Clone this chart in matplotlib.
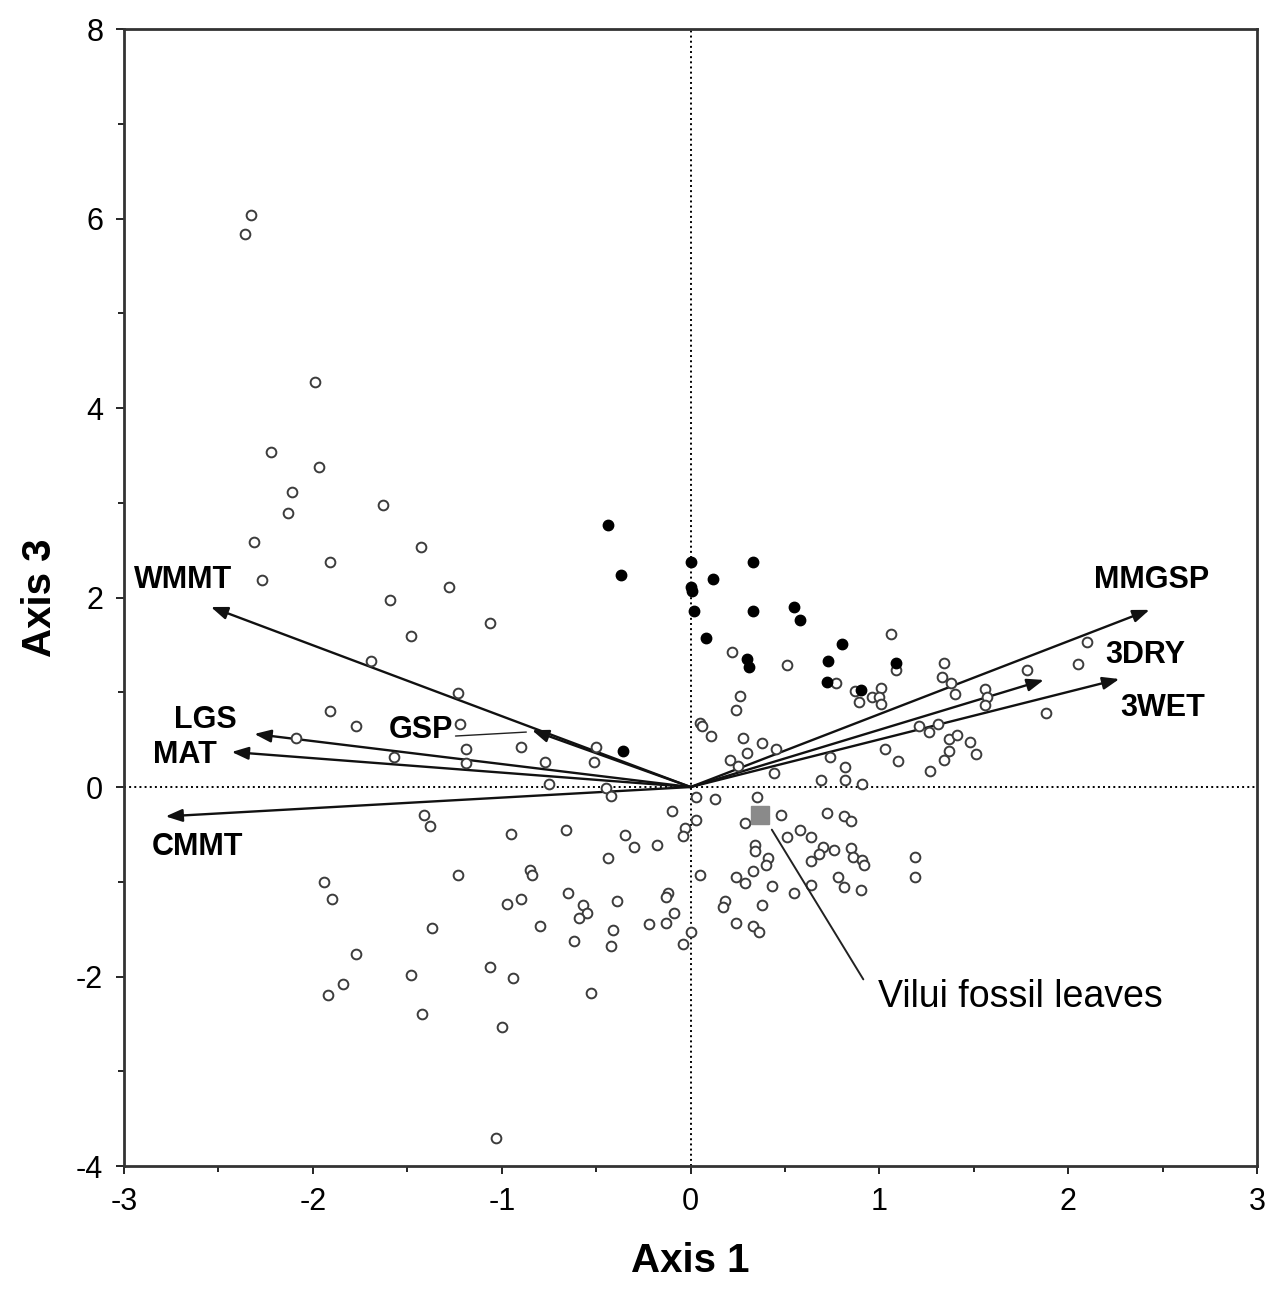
import numpy as np
import matplotlib.pyplot as plt
from matplotlib.ticker import MultipleLocator

plt.rcParams['font.family'] = ['Liberation Sans', 'DejaVu Sans']
plt.rcParams['axes.unicode_minus'] = False

# sitios abiertos (círculos vacíos)
open_x = [-2.33, -2.36, -1.99, -2.22, -1.97, -2.11, -2.13, -1.63, -2.31, -1.43, -1.91, -2.27,
          -1.28, -1.59, -1.06, -1.48, -1.69, -1.23, -1.91, -1.77, -2.09, -1.22, -1.19, -1.57,
          -1.19, -0.90, -0.77, -0.75, -0.50, -0.51, -0.45, -0.42,
          -0.10, 0.03, 0.03, -0.03, -0.04, -1.41, -1.38, -0.95, -0.66, -0.35, -0.30, -0.18,
          -0.44, -1.23, -0.85, -0.84, -1.94, -1.90, 0.05, -0.65, -0.97, -0.90, -0.57, -0.55,
          -0.59, -0.39, -0.12, -0.13, -0.09, -0.13, 0.00, -0.04, -0.22, -0.41, -0.42, -0.62,
          -0.80, -1.37, -1.77, -1.84, -1.92, -1.48, -1.42, -1.06, -0.94, -1.00, -0.53, -1.03,
          0.22, 0.51, 1.06, 1.34, 1.09, 0.77, 1.33, 1.38, 1.40, 0.87, 0.89, 0.96, 1.01, 1.00,
          1.01, 0.26, 0.24, 0.05, 0.06, 0.11, 0.38, 0.45, 0.30, 0.21, 0.25, 0.44, 0.74, 0.82,
          0.69, 0.82, 0.91, 1.03, 1.10, 1.21, 1.26, 1.31, 1.37, 1.41, 1.48, 1.51, 1.37, 1.34,
          1.27, 1.56, 1.57, 1.56, 1.78, 2.10, 2.05, 1.88, 0.28,
          0.13, 0.35, 0.29, 0.48, 0.72, 0.81, 0.85, 0.58, 0.64, 0.51, 0.70, 0.76, 0.85, 0.86,
          0.91, 0.92, 0.68, 0.64, 0.34, 0.34, 0.41, 0.40, 0.33, 0.24, 0.29, 0.43, 0.55, 0.64,
          0.78, 0.81, 0.90, 1.19, 1.19, 0.18, 0.17, 0.38, 0.24, 0.33, 0.36]
open_y = [6.04, 5.84, 4.27, 3.54, 3.38, 3.11, 2.89, 2.98, 2.59, 2.53, 2.37, 2.18,
          2.11, 1.97, 1.73, 1.59, 1.33, 0.99, 0.80, 0.64, 0.52, 0.66, 0.40, 0.32,
          0.25, 0.42, 0.26, 0.03, 0.42, 0.26, -0.01, -0.09,
          -0.25, -0.10, -0.35, -0.43, -0.52, -0.30, -0.41, -0.50, -0.45, -0.51, -0.63, -0.61,
          -0.75, -0.93, -0.88, -0.93, -1.00, -1.18, -0.93, -1.12, -1.23, -1.18, -1.25, -1.33,
          -1.38, -1.20, -1.12, -1.16, -1.33, -1.44, -1.53, -1.66, -1.45, -1.51, -1.68, -1.62,
          -1.47, -1.49, -1.76, -2.08, -2.20, -1.98, -2.40, -1.90, -2.02, -2.53, -2.17, -3.70,
          1.43, 1.29, 1.61, 1.31, 1.23, 1.10, 1.16, 1.10, 0.98, 1.01, 0.90, 0.95, 1.05, 0.95,
          0.88, 0.96, 0.81, 0.68, 0.64, 0.54, 0.46, 0.40, 0.36, 0.28, 0.22, 0.15, 0.32, 0.21,
          0.07, 0.07, 0.03, 0.40, 0.27, 0.64, 0.58, 0.66, 0.51, 0.55, 0.48, 0.35, 0.38, 0.28,
          0.17, 1.03, 0.95, 0.87, 1.23, 1.53, 1.30, 0.78, 0.52,
          -0.13, -0.11, -0.38, -0.29, -0.27, -0.31, -0.36, -0.45, -0.53, -0.53, -0.63, -0.66, -0.64, -0.74,
          -0.77, -0.82, -0.71, -0.78, -0.61, -0.68, -0.75, -0.82, -0.89, -0.95, -1.01, -1.04, -1.12, -1.03,
          -0.95, -1.06, -1.09, -0.74, -0.95, -1.20, -1.27, -1.25, -1.43, -1.47, -1.53]

# sitios con relleno negro
filled_x = [-0.44, -0.37, 0.00, 0.00, 0.01, 0.02, 0.12, 0.33, 0.33, 0.08, 0.30, 0.31,
            0.55, 0.58, 0.80, 0.73, 0.72, 0.90, 1.09, -0.36]
filled_y = [2.77, 2.24, 2.38, 2.11, 2.07, 1.86, 2.20, 2.38, 1.86, 1.57, 1.35, 1.27,
            1.90, 1.76, 1.51, 1.33, 1.11, 1.02, 1.31, 0.38]

# vectores climáticos
vec_names = ['WMMT', 'LGS', 'MAT', 'CMMT', 'GSP', 'MMGSP', '3DRY', '3WET']
vec_x = [-2.54, -2.31, -2.43, -2.78, -0.84, 2.43, 1.87, 2.27]
vec_y = [1.90, 0.56, 0.37, -0.31, 0.60, 1.87, 1.13, 1.14]
label_pos = {'WMMT': (-2.69, 2.18), 'LGS': (-2.57, 0.71), 'MAT': (-2.68, 0.34),
             'CMMT': (-2.61, -0.63), 'MMGSP': (2.44, 2.18), '3DRY': (2.41, 1.39),
             '3WET': (2.50, 0.83)}

# hojas fósiles de Vilui
fossil_x, fossil_y = 0.37, -0.30

fig = plt.figure(figsize=(12.75, 12.9), dpi=100)
ax = fig.add_axes([0.0973, 0.0961, 0.8887, 0.8814])

ax.axhline(0, color='black', ls=':', lw=1.4, zorder=1)
ax.axvline(0, color='black', ls=':', lw=1.4, zorder=1)

ax.plot(open_x, open_y, 'o', ms=7, mfc='white', mec='#3c3c3c', mew=1.4, zorder=3)
ax.plot(filled_x, filled_y, 'o', ms=7.5, mfc='black', mec='black', zorder=4)

# flechas
for name, vx, vy in zip(vec_names, vec_x, vec_y):
    ax.annotate('', xy=(vx, vy), xytext=(0, 0),
                arrowprops=dict(arrowstyle='-|>,head_length=1.0,head_width=0.38',
                                color='#111111', lw=1.7, shrinkA=0, shrinkB=0),
                zorder=2)
    if name in label_pos:
        lx, ly = label_pos[name]
        ax.text(lx, ly, name, fontsize=22, fontweight='bold', ha='center', va='center')

# GSP con línea guía
ax.annotate('GSP', xy=(vec_x[4] - 0.03, vec_y[4] - 0.02), xytext=(-1.43, 0.60),
            fontsize=22, fontweight='bold', ha='center', va='center',
            arrowprops=dict(arrowstyle='-', color='#222222', lw=1.0, shrinkA=0, shrinkB=0,
                            relpos=(1.0, 0.3)))

ax.plot(fossil_x, fossil_y, 's', ms=13, mfc='#8a8a8a', mec='#8a8a8a', zorder=5)
ax.annotate('Vilui fossil leaves', xy=(0.43, -0.45), xytext=(0.99, -2.22),
            fontsize=27, ha='left', va='center',
            arrowprops=dict(arrowstyle='-', color='#222222', lw=1.4,
                            shrinkA=0, shrinkB=0, relpos=(-0.05, 1.0)))

ax.set_xlim(-3, 3)
ax.set_ylim(-4, 8)
ax.xaxis.set_major_locator(MultipleLocator(1))
ax.xaxis.set_minor_locator(MultipleLocator(0.5))
ax.yaxis.set_major_locator(MultipleLocator(2))
ax.yaxis.set_minor_locator(MultipleLocator(1))
ax.tick_params(which='both', direction='out', labelsize=22, width=1.2, pad=9)
ax.tick_params(which='major', length=6)
ax.tick_params(which='minor', length=4)
for s in ax.spines.values():
    s.set_linewidth(2)
    s.set_color('#333333')

ax.set_xlabel('Axis 1', fontsize=29, fontweight='bold', labelpad=18)
ax.set_ylabel('Axis 3', fontsize=29, fontweight='bold', labelpad=12)

fig.savefig('out.png', dpi=100)
